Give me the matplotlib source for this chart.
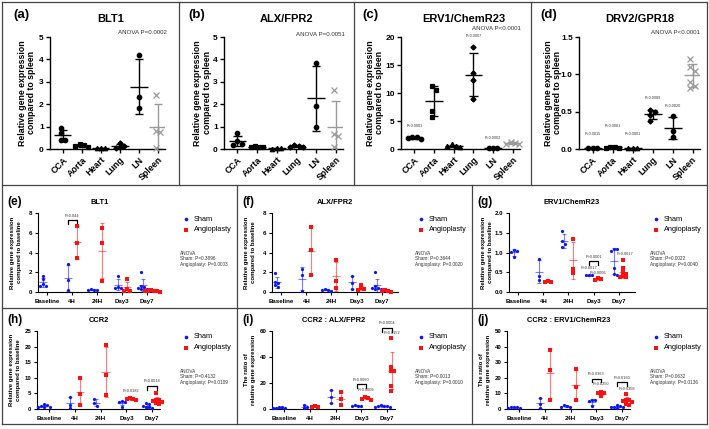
import numpy as np
import matplotlib
matplotlib.use("Agg")
import matplotlib.pyplot as plt
from matplotlib.lines import Line2D

plt.rcParams["font.family"] = ["Liberation Sans", "DejaVu Sans"]

W, H = 709, 429

# ---------------- top row: expression across tissues ----------------
tissues = ["CCA", "Aorta", "Heart", "Lung", "LN", "Spleen"]
tissue_markers = ["o", "s", "^", "D", "o", "x"]

blt1_tissue = [[0.92, 0.72, 0.42, 0.40], [0.22, 0.18, 0.12, 0.10], [0.06, 0.04, 0.03],
               [0.28, 0.12, 0.08, 0.06], [4.2, 2.32, 1.85], [2.4, 0.82, 0.74, 0.05]]
alx_tissue = [[0.70, 0.35, 0.22, 0.18], [0.14, 0.10, 0.08, 0.10], [0.05, 0.03, 0.02],
              [0.20, 0.15, 0.10, 0.08], [3.85, 1.92, 1.0], [2.65, 0.68, 0.57, 0.10]]
erv1_tissue = [[2.2, 2.1, 2.0, 1.75], [11.2, 10.6, 6.8, 5.7], [0.85, 0.55, 0.45, 0.35],
               [18.3, 13.5, 12.3, 9.0], [0.25, 0.15, 0.10], [1.25, 1.05, 0.85, 0.85]]
drv2_tissue = [[0.015, 0.01, 0.012], [0.03, 0.025, 0.02, 0.02], [0.012, 0.008, 0.01],
               [0.52, 0.50, 0.45, 0.38], [0.44, 0.24, 0.16], [1.2, 1.1, 1.05, 0.9, 0.85, 0.82]]

erv1_tissue_p = [(0, 3.7, "P<0.0001"), (3, 19.8, "P=0.0007"), (4, 1.6, "P=0.0002")]
drv2_tissue_p = [(0, 0.17, "P=0.0015"), (1, 0.28, "P<0.0001"), (2, 0.17, "P<0.0001"),
                 (3, 0.66, "P=0.0009"), (4, 0.55, "P=0.0020")]

# ---------------- middle / bottom rows: time course ----------------
times = ["Baseline", "4H", "24H", "Day3", "Day7"]

blt1_sham = [[1.65, 1.3, 0.8, 0.6, 0.6], [2.85, 1.2, 0.25], [0.3, 0.25, 0.2, 0.2],
             [1.6, 0.5, 0.45, 0.4], [2.0, 0.6, 0.45, 0.35, 0.3, 0.5]]
blt1_angio = [[], [6.65, 5.0, 3.4], [6.5, 5.0, 1.1], [1.3, 0.35, 0.15, 0.1],
              [0.2, 0.15, 0.1, 0.1, 0.05, 0.08]]

alx_sham = [[1.95, 1.0, 0.9, 0.7, 0.5], [2.3, 1.7, 0.1], [0.3, 0.25, 0.2, 0.15],
            [1.65, 0.95, 0.35], [2.0, 0.6, 0.4, 0.3, 0.3, 0.4]]
alx_angio = [[], [6.6, 4.25, 1.7], [3.2, 1.1, 0.45], [0.7, 0.4, 0.3, 0.25],
             [0.2, 0.15, 0.1, 0.05]]

erv1_sham = [[1.07, 1.05, 1.02, 0.88], [0.84, 0.4, 0.3], [1.55, 1.28, 1.22, 1.15],
             [0.44, 0.42, 0.42], [1.1, 1.08, 1.05, 0.62, 0.45, 0.42]]
erv1_angio = [[], [0.28, 0.26, 0.25], [1.35, 0.57, 0.49], [0.35, 0.33, 0.30],
              [0.8, 0.62, 0.5, 0.45, 0.4, 0.38, 0.37]]

ccr2_sham = [[1.6, 1.2, 1.0, 0.8, 0.6, 0.5], [4.0, 1.3, 0.2], [3.3, 1.9, 1.0],
             [2.5, 2.3, 2.1, 0.8], [1.8, 1.5, 1.0, 0.7, 0.5, 0.4]]
ccr2_angio = [[], [9.9, 4.8, 1.4], [20.5, 10.8, 4.5], [3.6, 3.3, 3.1, 2.8],
              [5.0, 3.0, 2.8, 2.5, 2.2, 1.8, 1.5]]

ratio_alx_sham = [[1.5, 1.2, 1.0, 0.8, 0.6], [2.8, 1.5, 0.5], [15.0, 9.0, 4.5],
                  [2.8, 2.5, 2.2, 2.0], [3.0, 2.5, 2.3, 2.0, 1.8, 1.5]]
ratio_alx_angio = [[], [2.2, 1.8, 1.5], [13.0, 7.5, 2.8], [9.0, 8.5, 7.8, 7.2],
                   [55.0, 32.0, 29.5, 29.0, 18.0, 14.0]]

ratio_erv_sham = [[1.5, 1.2, 1.0, 0.8, 0.6], [7.0, 3.0, 0.8], [2.5, 2.0, 1.5, 1.0],
                  [5.7, 5.5, 5.0, 1.8], [2.5, 2.0, 1.5, 1.0, 1.0, 0.5]]
ratio_erv_angio = [[], [37.8, 25.0, 5.8], [25.8, 13.8, 5.8], [11.0, 10.5, 10.0, 8.2],
                   [9.8, 6.0, 5.5, 5.0, 4.5, 3.5, 2.5]]

SHAM_C = "#0a14ff"
ANGIO_C = "#ff1010"

fig = plt.figure(figsize=(W / 100, H / 100), dpi=100)


def fx(x):
    return x / W


def fy(y):
    return 1 - y / H


def px_axes(x0, x1, ytop, ybot):
    return fig.add_axes([x0 / W, 1 - ybot / H, (x1 - x0) / W, (ybot - ytop) / H])


def swarm(vals, ylim, h_px, unit_px, d_px):
    vals = np.asarray(vals, float)
    ypx = (vals - ylim[0]) / (ylim[1] - ylim[0]) * h_px
    offs = np.zeros(len(vals))
    placed = []
    for i in np.argsort(-vals):
        ox = 0.0
        for k in [0, 1, -1, 2, -2, 3, -3, 4, -4]:
            ox = k * d_px
            if all((ox - a) ** 2 + (ypx[i] - b) ** 2 >= (0.95 * d_px) ** 2 for a, b in placed):
                break
        placed.append((ox, ypx[i]))
        offs[i] = ox / unit_px
    if len(offs):
        offs -= (offs.max() + offs.min()) / 2
    return offs


def mean_sd(ax, x, vals, color, hm, hc, lw, alpha=1.0):
    vals = np.asarray(vals, float)
    m = vals.mean()
    s = vals.std(ddof=1) if len(vals) > 1 else 0
    kw = dict(color=color, lw=lw, alpha=alpha, solid_capstyle="butt", zorder=2)
    ax.plot([x - hm, x + hm], [m, m], **kw)
    ax.plot([x, x], [m - s, m + s], **kw)
    ax.plot([x - hc, x + hc], [m + s, m + s], **kw)
    ax.plot([x - hc, x + hc], [m - s, m - s], **kw)


def style_axes(ax, lw, tl, fs):
    for sp in ["top", "right"]:
        ax.spines[sp].set_visible(False)
    for sp in ["left", "bottom"]:
        ax.spines[sp].set_linewidth(lw)
    ax.tick_params(length=tl, width=lw, labelsize=fs, pad=1.5)
    for lab in ax.get_yticklabels() + ax.get_xticklabels():
        lab.set_fontweight("bold")


# ---------------- top row ----------------
top_panels = [
    dict(letter="(a)", title="BLT1", data=blt1_tissue, ylim=(0, 5), yt=[0, 1, 2, 3, 4, 5],
         ytl=["0", "1", "2", "3", "4", "5"], x=(50, 165), anova="ANOVA P=0.0002",
         anova_xy=(167, 32), title_x=111, letter_x=13, lab_dx=22.5, pl=[]),
    dict(letter="(b)", title="ALX/FPR2", data=alx_tissue, ylim=(0, 5), yt=[0, 1, 2, 3, 4, 5],
         ytl=["0", "1", "2", "3", "4", "5"], x=(224, 343), anova="ANOVA P=0.0051",
         anova_xy=(345, 34), title_x=287, letter_x=188, lab_dx=21.5, pl=[]),
    dict(letter="(c)", title="ERV1/ChemR23", data=erv1_tissue, ylim=(0, 20), yt=[0, 5, 10, 15, 20],
         ytl=["0", "5", "10", "15", "20"], x=(401, 520), anova="ANOVA P<0.0001",
         anova_xy=(521, 28), title_x=464, letter_x=362, lab_dx=25.5, pl=erv1_tissue_p),
    dict(letter="(d)", title="DRV2/GPR18", data=drv2_tissue, ylim=(0, 1.5), yt=[0, 0.5, 1.0, 1.5],
         ytl=["0.0", "0.5", "1.0", "1.5"], x=(579, 700), anova="ANOVA P<0.0001",
         anova_xy=(700, 33), title_x=640, letter_x=540, lab_dx=26, pl=drv2_tissue_p),
]

TOP_Y0, TOP_Y1 = 37, 149
for p in top_panels:
    x0, x1 = p["x"]
    ax = px_axes(x0, x1, TOP_Y0, TOP_Y1)
    xlim = (-0.68, 5.37)
    unit = (x1 - x0) / (xlim[1] - xlim[0])
    for i, vals in enumerate(p["data"]):
        col = "#9a9a9a" if tissues[i] == "Spleen" else "black"
        offs = swarm(vals, p["ylim"], TOP_Y1 - TOP_Y0, unit, 4.3)
        mean_sd(ax, i, vals, col, 0.45, 0.22, 1.0)
        mk = tissue_markers[i]
        ms = 4.2 if mk == "x" else (2.6 if mk == "D" else 3.2)
        ax.plot(i + offs, vals, ls="none", marker=mk, ms=ms, color=col, mew=0.9,
                clip_on=False, zorder=3)
    for i, yv, txt in p["pl"]:
        ax.text(i, yv, txt, fontsize=2.7, ha="center", va="bottom", color="#333333")
    ax.set_xlim(*xlim)
    ax.set_ylim(*p["ylim"])
    ax.set_yticks(p["yt"])
    ax.set_yticklabels(p["ytl"])
    ax.set_xticks(range(len(tissues)))
    ax.set_xticklabels(tissues, rotation=45, ha="right", rotation_mode="anchor")
    style_axes(ax, 1.0, 3, 6.0)
    ax.tick_params(axis="x", labelsize=6.4)
    fig.text(fx(p["title_x"]), fy(19), p["title"], fontsize=8, fontweight="bold",
             ha="center", va="center")
    fig.text(fx(p["letter_x"]), fy(15), p["letter"], fontsize=9.5, fontweight="bold",
             ha="left", va="center")
    fig.text(fx(p["anova_xy"][0]), fy(p["anova_xy"][1]), p["anova"], fontsize=4.4,
             ha="right", va="center", color="#333333")
    fig.text(fx(x0 - p["lab_dx"]), fy((TOP_Y0 + TOP_Y1) / 2),
             "Relative gene expression\ncompared to spleen", rotation=90, fontsize=6.3,
             fontweight="bold", ha="center", va="center", multialignment="center",
             linespacing=1.0)

# ---------------- time-course rows ----------------
EXPR_LABEL = "Relative gene expression\ncompared to baseline"
RATIO_LABEL = "The ratio of\nrelative gene expression"

time_panels = [
    dict(letter="(e)", title="BLT1", sham=blt1_sham, angio=blt1_angio, ylim=(0, 8),
         yt=[0, 2, 4, 6, 8], ytl=["0", "2", "4", "6", "8"], ylabel=EXPR_LABEL,
         anova=("0.3896", "0.0003"), left=0, x=(38, 161), y=(213, 292),
         xlim=(-0.37, 4.55), pl=[], br=[(1, 7.3, "P=0.044")]),
    dict(letter="(f)", title="ALX/FPR2", sham=alx_sham, angio=alx_angio, ylim=(0, 8),
         yt=[0, 2, 4, 6, 8], ytl=["0", "2", "4", "6", "8"], ylabel=EXPR_LABEL,
         anova=("0.3644", "0.0020"), left=235, x=(272, 398), y=(213, 292),
         xlim=(-0.37, 4.65), pl=[], br=[]),
    dict(letter="(g)", title="ERV1/ChemR23", sham=erv1_sham, angio=erv1_angio, ylim=(0, 2.0),
         yt=[0, 0.5, 1.0, 1.5, 2.0], ytl=["0.0", "0.5", "1.0", "1.5", "2.0"], ylabel=EXPR_LABEL,
         anova=("0.0022", "0.0040"), left=470, x=(509, 635), y=(213, 292),
         xlim=(-0.37, 4.65),
         pl=[(3, -1, 0.56, "P=0.0017"), (3, 1, 0.44, "P=0.0006"), (4, 1.4, 0.9, "P=0.0017")],
         br=[(3, 0.78, "P=0.0001")]),
    dict(letter="(h)", title="CCR2", sham=ccr2_sham, angio=ccr2_angio, ylim=(0, 25),
         yt=[0, 5, 10, 15, 20, 25], ytl=["0", "5", "10", "15", "20", "25"], ylabel=EXPR_LABEL,
         anova=("0.4132", "0.0109"), left=0, x=(37, 160), y=(331, 409),
         xlim=(-0.47, 4.3), pl=[(3, 1, 5.0, "P=0.0182")], br=[(4, 7.5, "P=0.0018")]),
    dict(letter="(i)", title="CCR2 : ALX/FPR2", sham=ratio_alx_sham, angio=ratio_alx_angio,
         ylim=(0, 60), yt=[0, 20, 40, 60], ytl=["0", "20", "40", "60"], ylabel=RATIO_LABEL,
         anova=("0.0013", "0.0010"), left=235, x=(272, 395), y=(331, 409),
         xlim=(-0.47, 4.3), pl=[(3, 1, 13.0, "P=0.0009"), (4, 1, 57.0, "P=0.0152")],
         br=[(3, 19.0, "P=0.0060"), (4, 62.5, "P=0.0004")]),
    dict(letter="(j)", title="CCR2 : ERV1/ChemR23", sham=ratio_erv_sham, angio=ratio_erv_angio,
         ylim=(0, 50), yt=[0, 10, 20, 30, 40, 50], ytl=["0", "10", "20", "30", "40", "50"],
         ylabel=RATIO_LABEL, anova=("0.0632", "0.0136"), left=470, x=(507, 630), y=(331, 409),
         xlim=(-0.47, 4.3), pl=[(3, 1, 14.5, "P=0.0250"), (4, 1, 11.5, "P=0.0358")],
         br=[(3, 19.5, "P=0.0363"), (4, 17.0, "P=0.0160")]),
]

OFF = 0.19
for p in time_panels:
    x0, x1 = p["x"]
    y0, y1 = p["y"]
    L = p["left"]
    ax = px_axes(x0, x1, y0, y1)
    unit = (x1 - x0) / (p["xlim"][1] - p["xlim"][0])
    yr = p["ylim"][1] - p["ylim"][0]
    for t in range(len(times)):
        for vals, sgn, col, mk in [(p["sham"][t], -1, SHAM_C, "o"), (p["angio"][t], 1, ANGIO_C, "s")]:
            if not vals:
                continue
            xc = t + sgn * OFF
            mean_sd(ax, xc, vals, col, 0.16, 0.08, 0.8, alpha=0.55)
            offs = swarm(vals, p["ylim"], y1 - y0, unit, 3.0)
            ax.plot(xc + offs, vals, ls="none", marker=mk, ms=2.3, color=col, mew=0,
                    clip_on=False, zorder=3)
    for t, sgn, yv, txt in p["pl"]:
        ax.text(t + sgn * OFF, yv, txt, fontsize=2.8, ha="center", va="bottom",
                color="#333333", clip_on=False)
    for t, yv, txt in p["br"]:
        xa, xb = t - OFF, t + OFF
        dy = 0.05 * yr
        ax.plot([xa, xa, xb, xb], [yv - dy, yv, yv, yv - dy], color="black", lw=0.9,
                clip_on=False)
        ax.text(t, yv + 0.03 * yr, txt, fontsize=2.8, ha="center", va="bottom",
                color="#333333", clip_on=False)
    ax.set_xlim(*p["xlim"])
    ax.set_ylim(*p["ylim"])
    ax.set_yticks(p["yt"])
    ax.set_yticklabels(p["ytl"])
    ax.set_xticks(range(len(times)))
    ax.set_xticklabels(times)
    style_axes(ax, 0.8, 2.5, 4.4)
    ax.tick_params(axis="x", pad=2.5)

    ty = y0 - 11
    fig.text(fx((x0 + x1) / 2 + 0), fy(ty), p["title"], fontsize=5.4, fontweight="bold",
             ha="center", va="center")
    fig.text(fx(L + 7), fy(ty), p["letter"], fontsize=8.5, fontweight="bold",
             ha="left", va="center")
    fig.text(fx(x0 - 22), fy((y0 + y1) / 2), p["ylabel"], rotation=90, fontsize=4.3,
             fontweight="bold", ha="center", va="center", multialignment="center",
             linespacing=1.3)
    # legend
    for k, (lab, col, mk) in enumerate([("Sham", SHAM_C, "o"), ("Angioplasty", ANGIO_C, "s")]):
        ly = y0 + 6 + 10.5 * k
        fig.add_artist(Line2D([fx(L + 186)], [fy(ly)], marker=mk, ms=2.6, color=col, mew=0,
                              ls="none"))
        fig.text(fx(L + 194), fy(ly), lab, fontsize=5.3, ha="left", va="center")
    fig.text(fx(L + 180), fy(y0 + 46),
             "ANOVA\nSham: P=%s\nAngioplasty: P=%s" % p["anova"], fontsize=3.4,
             ha="left", va="center", color="#333333", linespacing=1.15)

# ---------------- panel frames ----------------
FR = dict(color="#444444", lw=0.9)


def hline(y, xa, xb):
    fig.add_artist(Line2D([fx(xa), fx(xb)], [fy(y), fy(y)], **FR))


def vline(x, ya, yb):
    fig.add_artist(Line2D([fx(x), fx(x)], [fy(ya), fy(yb)], **FR))


hline(2, 2, 707)
hline(185, 2, 707)
hline(308, 2, 707)
hline(424, 2, 707)
vline(2, 2, 424)
vline(707, 2, 424)
for xv in [179, 354, 531]:
    vline(xv, 2, 185)
for xv in [237, 472]:
    vline(xv, 185, 424)

fig.savefig("out.png", dpi=100)
